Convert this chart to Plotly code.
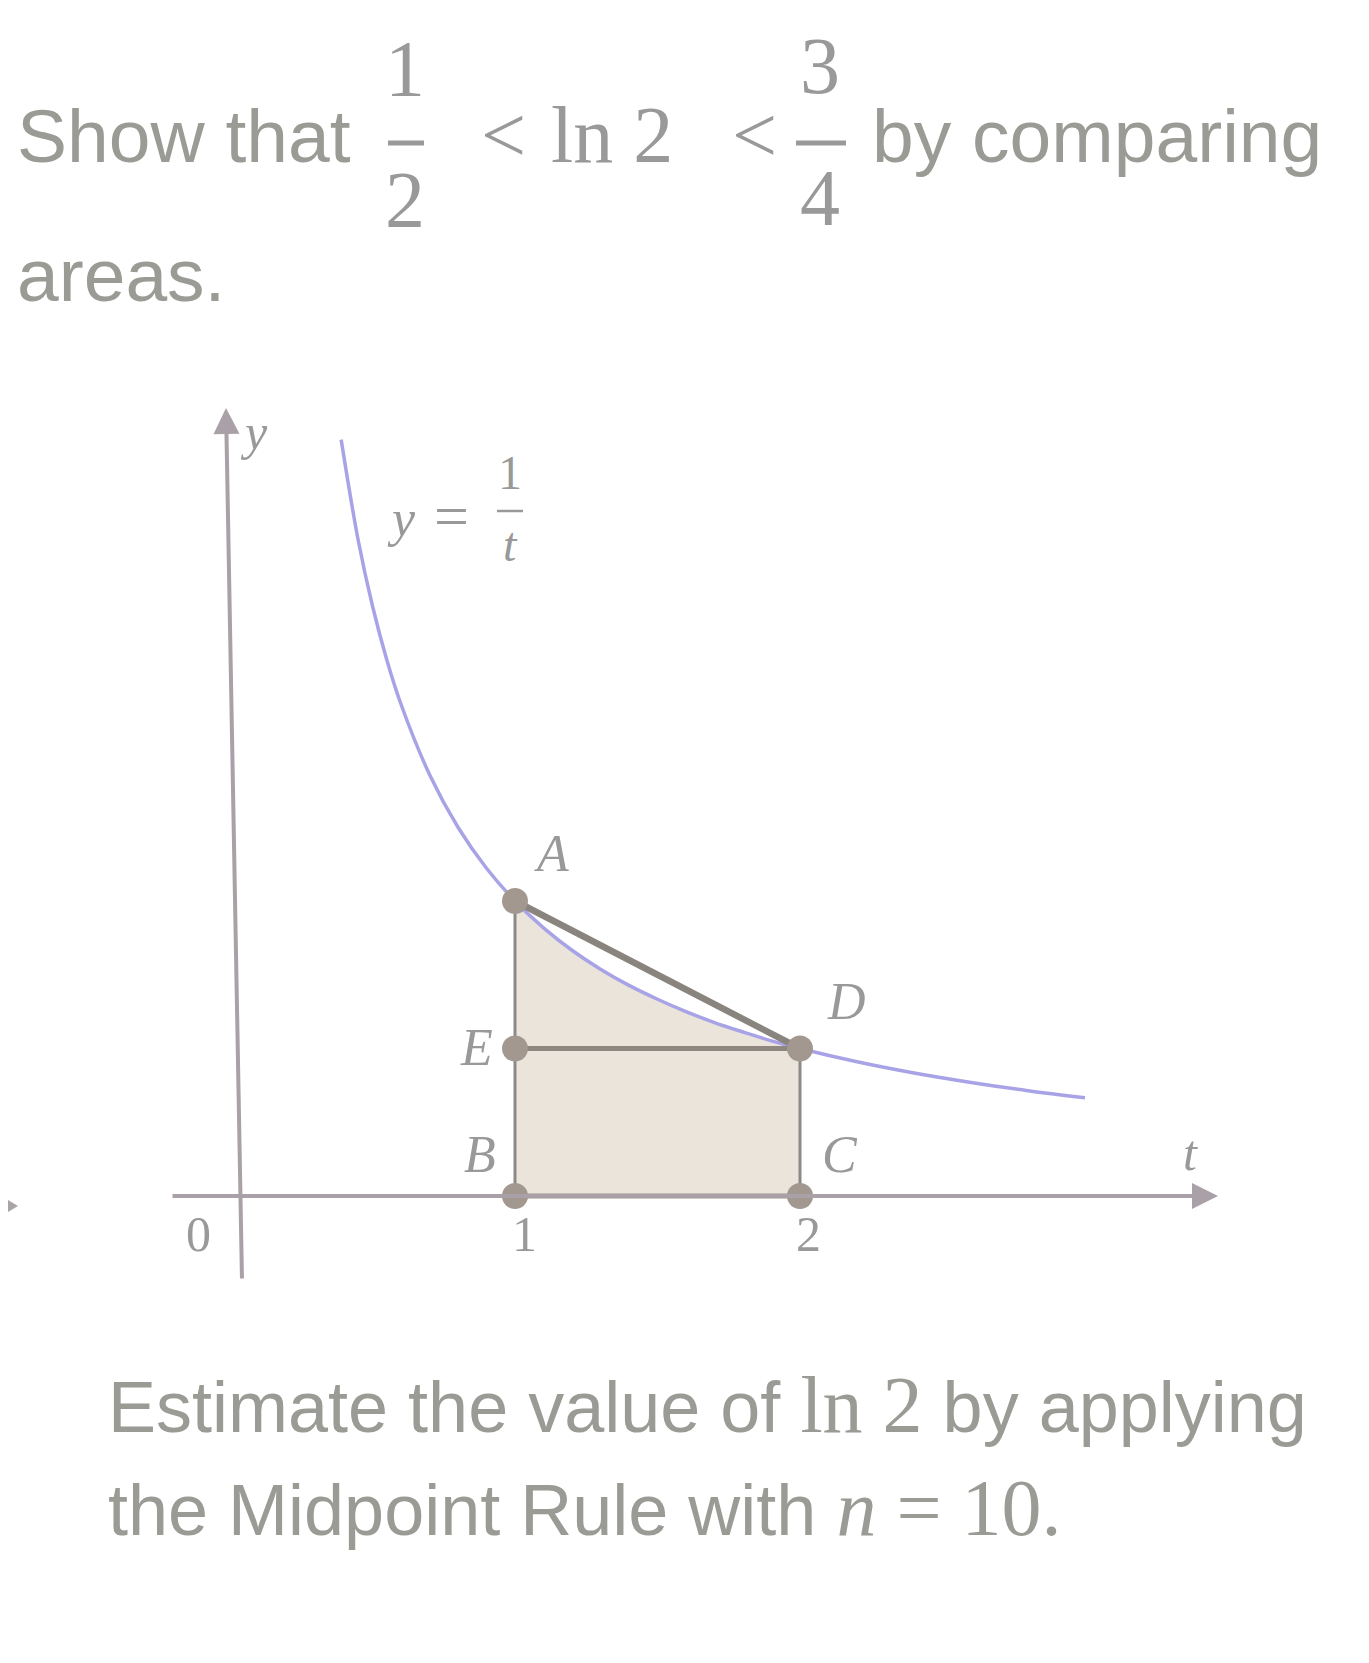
import plotly.graph_objects as go

# ---------------- data ----------------
curve_t = [0.39, 0.45, 0.50, 0.55, 0.60, 0.70, 0.80, 0.90, 1.00, 1.10, 1.20, 1.30,
           1.40, 1.50, 1.60, 1.70, 1.80, 1.90, 2.00, 2.20, 2.40, 2.60, 2.80, 3.00]
curve_y = [2.564, 2.222, 2.000, 1.818, 1.667, 1.429, 1.250, 1.111, 1.000, 0.909, 0.833, 0.769,
           0.714, 0.667, 0.625, 0.588, 0.556, 0.526, 0.500, 0.455, 0.417, 0.385, 0.357, 0.333]

point_names = ["A", "D", "E", "B", "C"]
point_t = [1, 2, 1, 1, 2]
point_y = [1.0, 0.5, 0.5, 0, 0]

tick_vals = [0, 1, 2]
tick_text = ["0", "1", "2"]

W, H = 1369, 1663
# pixel mapping of the drawing (t -> px, y -> px)
T0_PX, T_SCALE = 222, 285
Y0_PX, Y_SCALE = 1188, 295

TXT = "#9a9b94"
MATH = "#999999"
AXIS = "#a9a1a7"
SANS = "Liberation Sans, Arial, sans-serif"
SERIF = "Liberation Serif, Times New Roman, serif"


def px2t(px):
    return (px - T0_PX) / T_SCALE


def py2y(py):
    return (Y0_PX - py) / Y_SCALE


def pxp(px):
    return px / W


def pyp(py):
    return 1 - py / H


fig = go.Figure()

# shaded area under y = 1/t between t = 1 and t = 2
sel = [i for i, t in enumerate(curve_t) if 1 <= t <= 2]
fill_t = [curve_t[i] for i in sel] + [2, 1]
fill_y = [curve_y[i] for i in sel] + [0, 0]
fig.add_trace(go.Scatter(x=fill_t, y=fill_y, fill="toself", fillcolor="#eae4db",
                         line=dict(width=0), mode="lines", hoverinfo="skip"))

# the curve
fig.add_trace(go.Scatter(x=curve_t, y=curve_y, mode="lines",
                         line=dict(color="#a8a3e6", width=3.5, shape="spline"),
                         hoverinfo="skip"))

A = (point_t[0], point_y[0])
D = (point_t[1], point_y[1])
E = (point_t[2], point_y[2])
B = (point_t[3], point_y[3])
C = (point_t[4], point_y[4])

# axes (as arrows) -- the t axis runs through y = 0
fig.add_annotation(x=px2t(1210), y=0, ax=px2t(163), ay=0,
                   xref="x", yref="y", axref="x", ayref="y", text="", showarrow=True,
                   arrowhead=2, arrowsize=1.3, arrowwidth=4, arrowcolor=AXIS, standoff=0)
fig.add_annotation(x=px2t(218), y=py2y(400), ax=px2t(234), ay=py2y(1272),
                   xref="x", yref="y", axref="x", ayref="y", text="", showarrow=True,
                   arrowhead=2, arrowsize=1.3, arrowwidth=4, arrowcolor=AXIS, standoff=0)

# segments
segs = [
    (A, B, "#8c8987", 3),
    (D, C, "#8c8987", 3),
    (E, D, "#8e867f", 5),
    (A, D, "#8a847e", 6.5),
    (B, C, "#9c938d", 5),
]
for p, q, col, w in segs:
    fig.add_trace(go.Scatter(x=[p[0], q[0]], y=[p[1], q[1]], mode="lines",
                             line=dict(color=col, width=w), hoverinfo="skip"))

# points
fig.add_trace(go.Scatter(x=point_t, y=point_y, mode="markers",
                         marker=dict(color="#a2988f", size=26), hoverinfo="skip"))

# point labels (pixel positions of label centres)
label_px = {"A": (543, 845), "D": (838, 993), "E": (468, 1039),
            "B": (472, 1146), "C": (832, 1146)}
for name, t, y in zip(point_names, point_t, point_y):
    lx, ly = label_px[name]
    fig.add_annotation(x=px2t(lx), y=py2y(ly), text=f"<i>{name}</i>", showarrow=False,
                       font=dict(family=SERIF, size=52, color=MATH))

# tick labels
tick_px = {0: 190, 1: 516, 2: 800}
for v, s in zip(tick_vals, tick_text):
    fig.add_annotation(x=px2t(tick_px[v]), y=py2y(1226), text=s, showarrow=False,
                       font=dict(family=SERIF, size=50, color=MATH))

# axis names
fig.add_annotation(x=px2t(1182), y=py2y(1145), text="<i>t</i>", showarrow=False,
                   font=dict(family=SERIF, size=50, color=MATH))
fig.add_annotation(x=px2t(246), y=py2y(424), text="<i>y</i>", showarrow=False,
                   font=dict(family=SERIF, size=50, color=MATH))

# y = 1/t label
fig.add_annotation(x=px2t(393), y=py2y(510), text="<i>y</i>", showarrow=False,
                   font=dict(family=SERIF, size=52, color=MATH))
fig.add_annotation(x=px2t(443), y=py2y(508), text="=", showarrow=False,
                   font=dict(family=SERIF, size=62, color=MATH))
fig.add_annotation(x=px2t(502), y=py2y(464), text="1", showarrow=False,
                   font=dict(family=SERIF, size=48, color=MATH))
fig.add_annotation(x=px2t(502), y=py2y(536), text="<i>t</i>", showarrow=False,
                   font=dict(family=SERIF, size=48, color=MATH))

shapes = [
    dict(type="line", xref="x", yref="y", x0=px2t(489), x1=px2t(515),
         y0=py2y(503), y1=py2y(503), line=dict(color=MATH, width=2.5)),
    # fraction bars in the title
    dict(type="line", xref="paper", yref="paper", x0=pxp(380), x1=pxp(416),
         y0=pyp(135), y1=pyp(135), line=dict(color=MATH, width=5)),
    dict(type="line", xref="paper", yref="paper", x0=pxp(788), x1=pxp(838),
         y0=pyp(135), y1=pyp(135), line=dict(color=MATH, width=5)),
    # bottom edge line of the photo
    dict(type="line", xref="paper", yref="paper", x0=0.0, x1=0.45,
         y0=pyp(1660), y1=pyp(1660), line=dict(color="#e2e2e2", width=4)),
    dict(type="line", xref="paper", yref="paper", x0=0.45, x1=1.0,
         y0=pyp(1660), y1=pyp(1660), line=dict(color="#a8a8a8", width=4)),
    # small mark at the far left edge
    dict(type="path", xref="paper", yref="paper",
         path=f"M {pxp(0)} {pyp(1192)} L {pxp(10)} {pyp(1198)} L {pxp(0)} {pyp(1204)} Z",
         fillcolor="#a9a4a6", line=dict(width=0)),
]


# ---------------- text ----------------
def txt(px, py_center, s, size, family, color=TXT, xanchor="left"):
    fig.add_annotation(xref="paper", yref="paper", x=pxp(px), y=pyp(py_center),
                       text=s, showarrow=False, xanchor=xanchor, yanchor="middle",
                       font=dict(family=family, size=size, color=color))


SS = 75   # sans size
MS = 80   # math size

txt(7, 153 - 0.33 * SS, "Show that", SS, SANS)
txt(397, 87 - 0.33 * MS, "1", MS, SERIF, MATH, "center")
txt(397, 218 - 0.33 * MS, "2", MS, SERIF, MATH, "center")
txt(495, 153 - 0.33 * MS, "&lt;", MS, SERIF, MATH, "center")
txt(541, 153 - 0.33 * MS, "ln 2", MS, SERIF, MATH)
txt(746, 153 - 0.33 * MS, "&lt;", MS, SERIF, MATH, "center")
txt(812, 84 - 0.33 * MS, "3", MS, SERIF, MATH, "center")
txt(812, 216 - 0.33 * MS, "4", MS, SERIF, MATH, "center")
txt(862, 153 - 0.33 * SS, "by comparing", SS, SANS)
txt(7, 292 - 0.33 * SS, "areas.", SS, SANS)

BS = 72
mspan = f'<span style="font-family:Liberation Serif;font-size:{MS}px">'
txt(98, 1421 - 0.33 * BS,
    f"Estimate the value of {mspan}ln 2</span> by applying", BS, SANS)
txt(98, 1524 - 0.33 * BS,
    f"the Midpoint Rule with {mspan}<i>n</i> = 10.</span>", BS, SANS)

fig.update_layout(
    width=W, height=H, margin=dict(l=0, r=0, t=0, b=0),
    paper_bgcolor="white", plot_bgcolor="white", showlegend=False,
    shapes=shapes,
    xaxis=dict(range=[px2t(0), px2t(W)], visible=False, fixedrange=True),
    yaxis=dict(range=[py2y(H), py2y(0)], visible=False, fixedrange=True),
)

fig.write_html("out.html")
